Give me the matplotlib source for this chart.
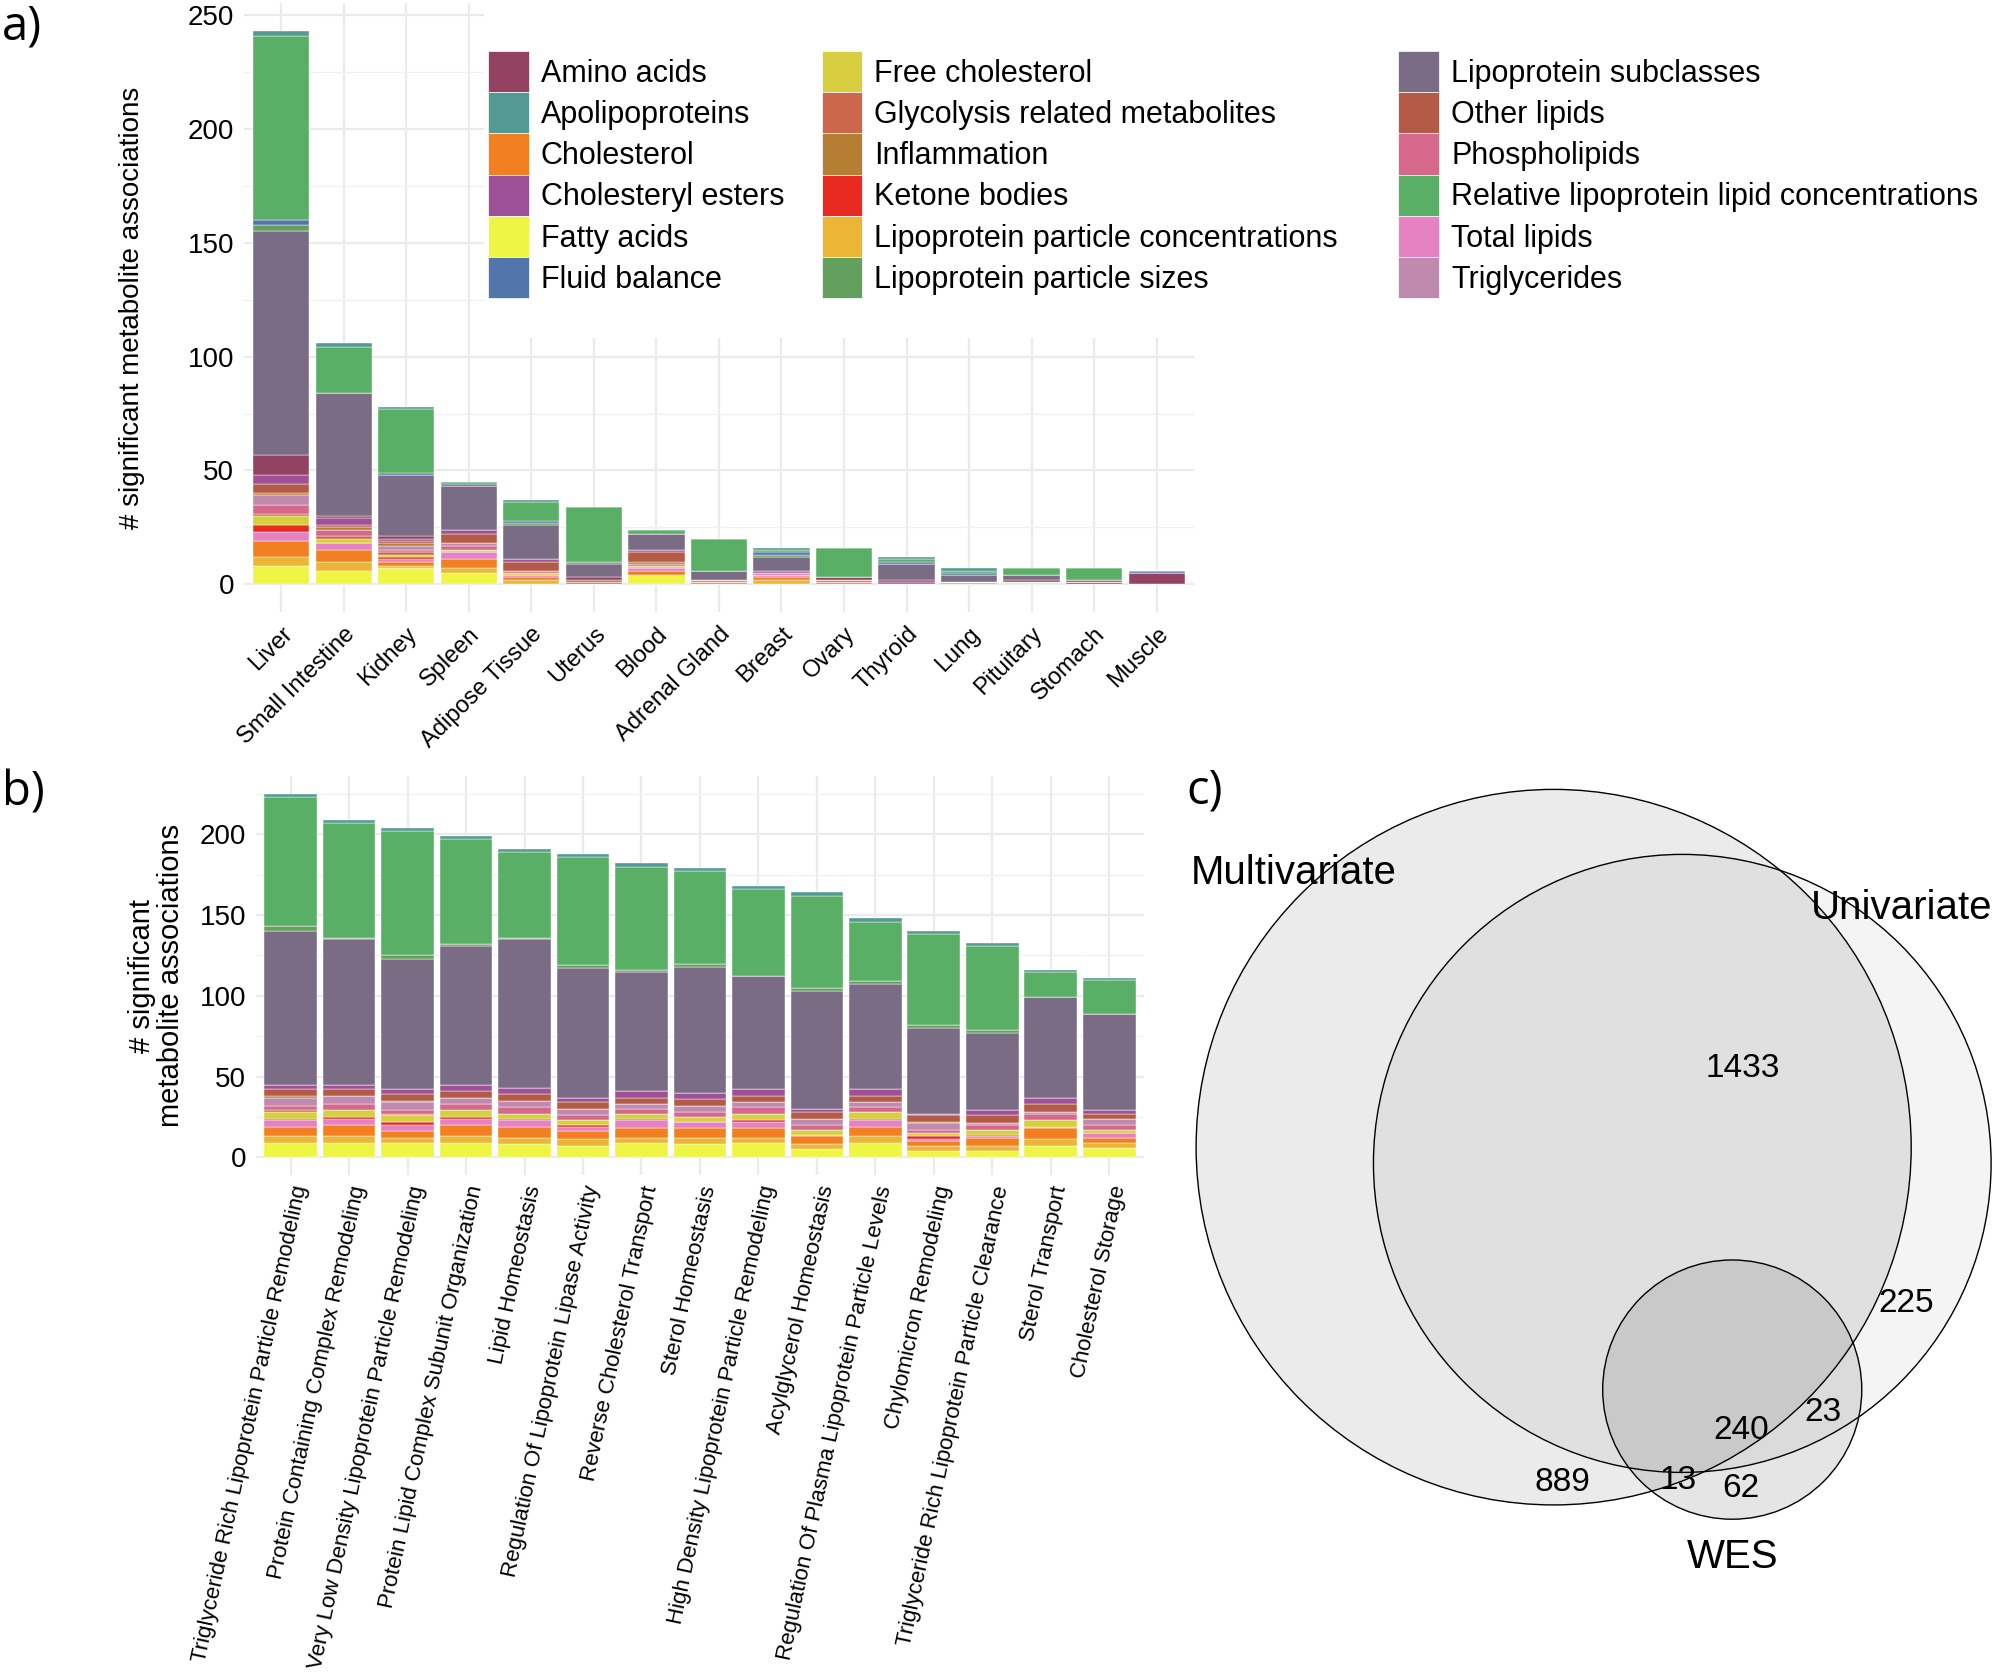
import numpy as np
import matplotlib.pyplot as plt
from matplotlib.patches import Patch, Rectangle, Circle
from matplotlib.ticker import MultipleLocator

plt.rcParams['font.family'] = ['Liberation Sans', 'DejaVu Sans']

# metabolite classes in stacking order (bottom -> top)
classes = ['Fatty acids', 'Lipoprotein particle concentrations', 'Cholesterol',
           'Total lipids', 'Ketone bodies', 'Free cholesterol',
           'Glycolysis related metabolites', 'Phospholipids', 'Triglycerides',
           'Inflammation', 'Other lipids', 'Cholesteryl esters', 'Amino acids',
           'Lipoprotein subclasses', 'Lipoprotein particle sizes', 'Fluid balance',
           'Relative lipoprotein lipid concentrations', 'Apolipoproteins']

class_colors = {
    'Amino acids': '#934262',
    'Apolipoproteins': '#529A93',
    'Cholesterol': '#F28022',
    'Cholesteryl esters': '#9E5199',
    'Fatty acids': '#EEF544',
    'Fluid balance': '#5275AB',
    'Free cholesterol': '#D8CF40',
    'Glycolysis related metabolites': '#CD674B',
    'Inflammation': '#B67E33',
    'Ketone bodies': '#E82A22',
    'Lipoprotein particle concentrations': '#EBB535',
    'Lipoprotein particle sizes': '#63A05E',
    'Lipoprotein subclasses': '#7A6C85',
    'Other lipids': '#B35B46',
    'Phospholipids': '#D6698B',
    'Relative lipoprotein lipid concentrations': '#5AAF66',
    'Total lipids': '#E681C2',
    'Triglycerides': '#C08AAE',
}

# panel a: tissues
tissues = ['Liver', 'Small Intestine', 'Kidney', 'Spleen', 'Adipose Tissue', 'Uterus',
           'Blood', 'Adrenal Gland', 'Breast', 'Ovary', 'Thyroid', 'Lung',
           'Pituitary', 'Stomach', 'Muscle']
# one row per tissue, columns follow `classes`
tissue_counts = [
    [8, 4, 7, 4, 3, 4, 1, 4, 4, 1, 4, 4, 9, 98, 3, 2, 81, 2],
    [6, 4, 5, 3, 0, 2, 1, 3, 0, 1, 1, 3, 1, 54, 0, 0, 20, 2],
    [7, 1, 2, 1, 1, 1, 1, 1, 2, 1, 1, 1, 1, 27, 0, 1, 28, 1],
    [5, 2, 4, 3, 0, 1, 0, 2, 1, 0, 4, 2, 0, 19, 0, 1, 1, 0],
    [0, 2, 1, 1, 0, 1, 0, 1, 0, 0, 4, 1, 0, 15, 1, 1, 8, 1],
    [0, 0, 0, 0, 0, 0, 1, 0, 0, 0, 1, 0, 1, 6, 1, 0, 24, 0],
    [4, 0, 2, 1, 0, 1, 0, 1, 0, 1, 4, 1, 0, 7, 0, 0, 2, 0],
    [0, 0, 1, 0, 0, 0, 0, 1, 0, 0, 0, 0, 0, 4, 0, 0, 14, 0],
    [0, 2, 1, 1, 0, 0, 0, 1, 0, 0, 0, 1, 0, 6, 1, 1, 1, 1],
    [0, 0, 1, 0, 0, 0, 1, 0, 0, 0, 0, 0, 1, 0, 0, 0, 13, 0],
    [0, 0, 0, 0, 0, 0, 0, 0, 0, 0, 0, 1, 1, 7, 0, 1, 1, 1],
    [0, 1, 0, 0, 0, 0, 0, 0, 0, 0, 0, 0, 0, 3, 0, 1, 1, 1],
    [1, 0, 0, 0, 0, 0, 0, 0, 0, 0, 0, 0, 1, 2, 0, 0, 3, 0],
    [0, 0, 0, 0, 1, 0, 0, 0, 0, 0, 0, 0, 1, 0, 0, 0, 5, 0],
    [0, 0, 0, 0, 0, 0, 0, 0, 0, 0, 0, 0, 5, 0, 0, 1, 0, 0],
]

# panel b: pathways
pathways = ['Triglyceride Rich Lipoprotein Particle Remodeling',
            'Protein Containing Complex Remodeling',
            'Very Low Density Lipoprotein Particle Remodeling',
            'Protein Lipid Complex Subunit Organization',
            'Lipid Homeostasis',
            'Regulation Of Lipoprotein Lipase Activity',
            'Reverse Cholesterol Transport',
            'Sterol Homeostasis',
            'High Density Lipoprotein Particle Remodeling',
            'Acylglycerol Homeostasis',
            'Regulation Of Plasma Lipoprotein Particle Levels',
            'Chylomicron Remodeling',
            'Triglyceride Rich Lipoprotein Particle Clearance',
            'Sterol Transport',
            'Cholesterol Storage']
pathway_counts = [
    [9, 4, 6, 4, 1, 4, 1, 3, 5, 1, 4, 3, 0, 95, 3, 0, 80, 2],
    [9, 4, 7, 4, 1, 4, 0, 4, 5, 0, 4, 3, 0, 90, 1, 0, 71, 2],
    [9, 3, 4, 4, 2, 4, 1, 2, 5, 1, 4, 3, 0, 81, 2, 0, 77, 2],
    [9, 4, 7, 4, 1, 4, 0, 4, 4, 0, 4, 4, 0, 86, 1, 0, 65, 2],
    [8, 4, 7, 4, 1, 3, 0, 4, 4, 0, 4, 4, 0, 92, 1, 0, 53, 2],
    [7, 4, 5, 3, 1, 3, 0, 3, 4, 0, 4, 3, 0, 80, 2, 0, 67, 2],
    [9, 3, 6, 5, 1, 3, 0, 3, 3, 0, 4, 4, 0, 74, 1, 0, 64, 2],
    [8, 4, 6, 4, 0, 3, 0, 3, 4, 0, 4, 4, 0, 78, 2, 0, 57, 2],
    [9, 3, 6, 4, 1, 4, 0, 4, 3, 0, 4, 4, 0, 70, 0, 0, 54, 2],
    [5, 3, 5, 1, 0, 3, 0, 3, 4, 0, 4, 2, 0, 73, 2, 0, 57, 2],
    [9, 4, 6, 4, 1, 4, 0, 3, 3, 0, 4, 4, 0, 65, 2, 0, 37, 2],
    [4, 3, 3, 1, 2, 2, 0, 2, 4, 1, 4, 1, 0, 53, 2, 0, 56, 2],
    [4, 3, 5, 1, 1, 3, 0, 3, 1, 0, 5, 3, 0, 48, 2, 0, 52, 2],
    [7, 4, 7, 1, 0, 4, 0, 4, 1, 0, 5, 4, 0, 62, 0, 0, 16, 1],
    [6, 3, 3, 3, 0, 2, 0, 3, 4, 0, 3, 2, 0, 60, 0, 0, 21, 1],
]

# panel c: venn region counts
venn_sets = ['Multivariate', 'Univariate', 'WES']
only_multi, only_uni, only_wes = 889, 225, 62
multi_uni, multi_wes, uni_wes, all_three = 1433, 13, 23, 240


def stacked(ax, names, counts, ymax):
    counts = np.array(counts)
    x = np.arange(1, len(names) + 1)
    bottom = np.zeros(len(names))
    for j, c in enumerate(classes):
        ax.bar(x, counts[:, j], 0.9, bottom=bottom, color=class_colors[c],
               edgecolor='white', linewidth=0.3, zorder=2)
        bottom += counts[:, j]
    ax.set_xlim(0.4, len(names) + 0.6)
    ax.set_ylim(-0.05 * ymax, 1.05 * ymax)
    ax.set_xticks(x)
    ax.yaxis.set_major_locator(MultipleLocator(50))
    ax.yaxis.set_minor_locator(MultipleLocator(25))
    ax.grid(which='major', color='#EBEBEB', lw=1.6, zorder=0)
    ax.grid(which='minor', axis='y', color='#F0F0F0', lw=1.0, zorder=0)
    ax.set_axisbelow(True)
    for s in ax.spines.values():
        s.set_visible(False)
    ax.tick_params(which='both', length=0)
    ax.tick_params(axis='y', labelsize=20, pad=7)
    return x


fig = plt.figure(figsize=(19.97, 16.72), dpi=100)

# a) tissues
ax_a = fig.add_axes([0.122, 0.634, 0.476, 0.364])
stacked(ax_a, tissues, tissue_counts, 243)
ax_a.set_xticklabels(tissues, rotation=45, ha='right', va='top',
                     rotation_mode='anchor', fontsize=17)
ax_a.tick_params(axis='x', pad=8)
ax_a.set_ylabel('# significant metabolite associations', fontsize=20)
ax_a.yaxis.set_label_coords(-0.104, 0.5)

# white box behind legend hides the grid
fig.add_artist(Rectangle((0.2423, 0.798), 0.76, 0.21, transform=fig.transFigure,
                         facecolor='white', edgecolor='none', zorder=1))
leg_names = sorted(classes)
col_x = [0.2443, 0.4114, 0.7003]
for k in range(3):
    part = leg_names[k * 6:(k + 1) * 6]
    handles = [Patch(facecolor=class_colors[n], edgecolor='white', linewidth=0.5)
               for n in part]
    fig.legend(handles, part, loc='upper left', bbox_to_anchor=(col_x[k], 0.9695),
               bbox_transform=fig.transFigure, frameon=False, fontsize=22,
               borderpad=0, borderaxespad=0, labelspacing=0, handleheight=1.7,
               handlelength=1.33, handletextpad=0.4)

# b) pathways
ax_b = fig.add_axes([0.128, 0.297, 0.445, 0.239])
stacked(ax_b, pathways, pathway_counts, 225)
ax_b.set_xticklabels(pathways, rotation=78, ha='right', va='top',
                     rotation_mode='anchor', fontsize=16)
ax_b.tick_params(axis='x', pad=6)
ax_b.set_ylabel('# significant\nmetabolite associations', fontsize=21, linespacing=1.05)
ax_b.yaxis.set_label_coords(-0.079, 0.5)

# c) venn, circle areas proportional to set sizes
ax_c = fig.add_axes([0.5835, 0.0396, 0.4165, 0.503])
ax_c.set_xlim(-31.1, 35.5)
ax_c.set_ylim(-36.7, 30.6)
ax_c.axis('off')
set_sizes = [only_multi + multi_uni + multi_wes + all_three,
             only_uni + multi_uni + uni_wes + all_three,
             only_wes + multi_wes + uni_wes + all_three]
centers = [(0, 0), (10.3, -1.3), (14.3, -19.4)]
alphas = [0.078, 0.043, 0.10]
for n, (cx, cy), a in zip(set_sizes, centers, alphas):
    ax_c.add_patch(Circle((cx, cy), np.sqrt(n / np.pi), facecolor=(0, 0, 0, a),
                          edgecolor='black', linewidth=1.0))

name_pos = [(-29.05, 21.9, 'left'), (20.6, 19.1, 'left'), (14.3, -32.8, 'center')]
for name, (tx, ty, h) in zip(venn_sets, name_pos):
    ax_c.text(tx, ty, name, fontsize=29, ha=h, va='center')

region_counts = [only_multi, multi_uni, only_uni, uni_wes, all_three, multi_wes, only_wes]
region_pos = [(0.7, -26.8), (15.1, 6.3), (28.2, -12.5), (21.6, -21.2),
              (15.0, -22.7), (10.0, -26.7), (15.0, -27.3)]
for v, (tx, ty) in zip(region_counts, region_pos):
    ax_c.text(tx, ty, str(v), fontsize=24, ha='center', va='center')

# panel letters
for lab, x, y in [('a)', 0.001, 0.998), ('b)', 0.001, 0.54), ('c)', 0.594, 0.541)]:
    fig.text(x, y, lab, fontsize=34, family=['Open Sans', 'DejaVu Sans'],
             ha='left', va='top')

fig.savefig('out.png', dpi=100)
